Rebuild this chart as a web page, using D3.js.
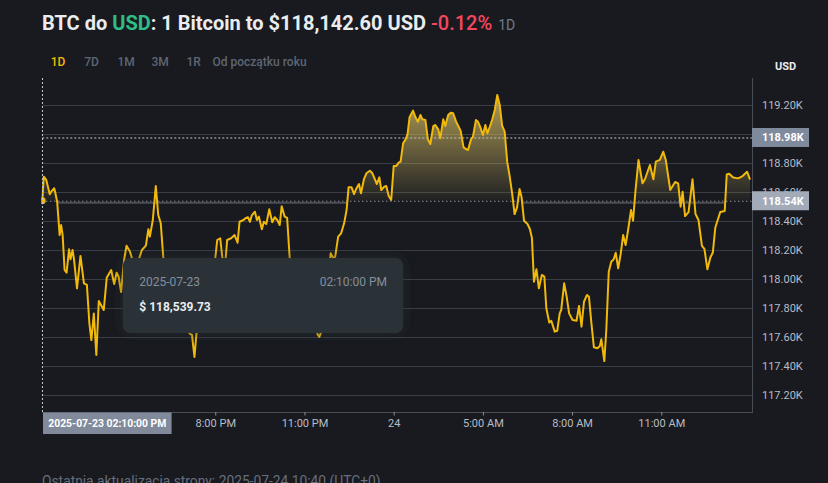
<!DOCTYPE html>
<html>
<head>
<meta charset="utf-8">
<script src="https://cdn.jsdelivr.net/npm/d3@7/dist/d3.min.js"></script>
<style>
  html, body { margin: 0; padding: 0; background: #181a20; }
  svg { display: block; }
  text { font-family: Roboto, "Noto Sans", sans-serif; }
</style>
</head>
<body>
<svg id="chart" width="828" height="483"></svg>
<script>
// ---------------- DATA ----------------
const startTime = "2025-07-23T14:10:00Z";
const endTime = "2025-07-24T14:02:00Z";
// minutes since start
const offsetMin = [0,3,8,15,18,24,26,30,35,38,41,45,49,54,57,61,64,70,77,84,90,95,99,104,109,114,124,130,139,145,150,154,159,165,170,177,185,193,201,209,214,217,223,229,234,239,244,252,262,274,286,298,302,307,311,320,330,340,349,353,359,363,367,370,373,381,388,394,398,406,410,415,419,423,429,433,437,443,447,452,458,464,469,474,479,483,489,494,499,506,516,528,540,550,556,559,562,571,577,582,587,591,597,603,609,614,618,624,629,634,639,643,649,654,661,666,671,675,680,684,690,694,699,704,709,714,719,723,728,733,737,741,748,753,758,763,767,773,778,783,789,793,799,803,809,813,819,824,829,835,840,844,850,856,859,865,869,875,879,884,889,894,898,903,908,913,918,923,928,933,938,943,948,953,958,963,967,972,979,984,988,992,997,1002,1008,1013,1017,1023,1027,1034,1039,1044,1047,1053,1058,1063,1070,1078,1083,1088,1093,1099,1103,1108,1113,1120,1125,1128,1134,1138,1143,1148,1153,1157,1162,1167,1172,1177,1182,1188,1192,1197,1203,1211,1216,1226,1233,1238,1246,1253,1258,1267,1277,1283,1288,1292,1297,1304,1312,1318,1324,1331,1336,1342,1348,1353,1358,1368,1377,1381,1386,1394,1404,1413,1422,1428];
const prices = [118539.73,118706,118683,118584,118602,118626,118598,118533,118303,118372,118303,118062,118043,118205,118136,118200,118136,117936,118159,117970,117959,117694,117579,117762,117476,117848,117786,118008,118062,117966,118043,118016,117910,118131,118229,118188,118097,118117,118200,118230,118343,118292,118407,118641,118441,118384,118154,117959,117855,117772,117683,117621,117614,117462,117621,117752,117855,117993,118143,118269,118281,118154,118103,118143,118269,118281,118303,118250,118395,118407,118419,118426,118395,118441,118464,118407,118430,118343,118395,118379,118481,118391,118426,118407,118372,118501,118430,118421,118154,117959,117855,117786,117731,117683,117614,117600,117628,117855,118028,118177,118143,118154,118292,118315,118384,118476,118632,118632,118586,118626,118655,118591,118688,118729,118747,118729,118688,118655,118701,118614,118637,118641,118572,118545,118779,118779,118802,118809,118936,118963,119000,119115,119161,119115,119085,119131,119101,119097,118963,118931,119055,119062,119032,118970,119101,119055,119131,119147,119143,119085,119050,119023,118908,118894,118890,118963,118981,119097,119085,119046,118993,119062,119005,119050,119101,119166,119269,119200,119055,119016,118809,118710,118591,118448,118494,118621,118566,118402,118379,118343,118281,117981,118067,117936,118028,118016,117798,117699,117712,117637,117643,117763,117786,117970,117878,117763,117717,117712,117814,117671,117843,117890,117878,117694,117529,117522,117538,117584,117434,117648,118050,118119,118136,118181,118074,118172,118303,118234,118338,118476,118402,118614,118821,118660,118688,118786,118688,118809,118821,118878,118821,118614,118669,118660,118499,118602,118434,118461,118688,118448,118407,118229,118208,118067,118148,118183,118355,118462,118469,118721,118726,118700,118694,118710,118740,118686];

const baselineValue = 118539.73;
const highLineValue = 118976;
const yTickValues = [117200,117400,117600,117800,118000,118200,118400,118600,118800,119000,119200];
const xTickTimes = ["2025-07-23T20:00:00Z","2025-07-23T23:00:00Z","2025-07-24T02:00:00Z","2025-07-24T05:00:00Z","2025-07-24T08:00:00Z","2025-07-24T11:00:00Z"];
const xTickLabels = ["8:00 PM","11:00 PM","24","5:00 AM","8:00 AM","11:00 AM"];
// ranges (minutes since start) where the grey baseline band is shown
const greyBandMin = [[32, 615], [970, 1378]];
const tabs = ["1D","7D","1M","3M","1R","Od początku roku"];
const tooltipDate = "2025-07-23";
const tooltipTime = "02:10:00 PM";
const tooltipPrice = "$ 118,539.73";
const crosshairLabel = "2025-07-23 02:10:00 PM";
const footerText = "Ostatnia aktualizacja strony: 2025-07-24 10:40 (UTC+0)";

// ---------------- LAYOUT ----------------
const W = 828, H = 483;
const plot = { left: 42.3, right: 752, top: 78, bottom: 412 };
const t0 = new Date(startTime).getTime();
const data = offsetMin.map((m, i) => ({ t: new Date(t0 + m * 60000), v: prices[i] }));

const x = d3.scaleUtc().domain([new Date(startTime), new Date(endTime)]).range([plot.left, plot.right]);
const y = d3.scaleLinear().domain([117200, 119200]).range([395, 105]);

const svg = d3.select("#chart");
svg.append("rect").attr("width", W).attr("height", H).attr("fill", "#181a20");

const defs = svg.append("defs");
defs.append("clipPath").attr("id", "plotClip").append("rect")
  .attr("x", 41.3).attr("y", plot.top).attr("width", plot.right - 41.3).attr("height", plot.bottom - plot.top);
defs.append("clipPath").attr("id", "aboveClip").append("rect")
  .attr("x", 41.3).attr("y", plot.top).attr("width", plot.right - 41.3).attr("height", y(baselineValue) - plot.top);
const grad = defs.append("linearGradient").attr("id", "areaGrad")
  .attr("gradientUnits", "userSpaceOnUse").attr("x1", 0).attr("x2", 0)
  .attr("y1", y(d3.max(prices))).attr("y2", y(baselineValue));
grad.append("stop").attr("offset", "0%").attr("stop-color", "rgb(232,204,104)").attr("stop-opacity", 0.74);
grad.append("stop").attr("offset", "100%").attr("stop-color", "rgb(232,204,104)").attr("stop-opacity", 0.04);
const shadow = defs.append("filter").attr("id", "tipShadow").attr("x", "-20%").attr("y", "-40%").attr("width", "140%").attr("height", "180%");
shadow.append("feGaussianBlur").attr("in", "SourceAlpha").attr("stdDeviation", 7).attr("result", "b");
shadow.append("feFlood").attr("flood-color", "#2b3139").attr("flood-opacity", 0.55).attr("result", "c");
shadow.append("feComposite").attr("in", "c").attr("in2", "b").attr("operator", "in").attr("result", "s");
const fm = shadow.append("feMerge");
fm.append("feMergeNode").attr("in", "s");
fm.append("feMergeNode").attr("in", "SourceGraphic");

// ---------------- TITLE ----------------
const title = svg.append("text").attr("x", 42).attr("y", 29.5).attr("font-size", 20).attr("font-weight", 700).attr("fill", "#eaecef");
title.append("tspan").text("BTC do ");
title.append("tspan").attr("fill", "#2ebd85").text("USD");
title.append("tspan").text(": 1 Bitcoin to $118,142.60 USD ");
title.append("tspan").attr("fill", "#f6465d").attr("font-weight", 500).text("-0.12%");
title.append("tspan").attr("fill", "#707a8a").attr("font-weight", 400).attr("font-size", 14).attr("dx", 6).text("1D");

// tabs
const tabX = [50.7, 84.3, 117.5, 151.4, 186.4, 212.5];
tabs.forEach((t, i) => {
  svg.append("text").attr("x", tabX[i]).attr("y", 65.5).attr("font-size", 12).attr("font-weight", 500)
    .attr("fill", i === 0 ? "#f0b90b" : "#5e6673").text(t);
});

// ---------------- GRID ----------------
svg.append("g").selectAll("line").data(yTickValues).join("line")
  .attr("x1", plot.left).attr("x2", plot.right)
  .attr("y1", d => y(d) + 0.5).attr("y2", d => y(d) + 0.5)
  .attr("stroke", "#393d45").attr("stroke-width", 1);

// ---------------- AREA + LINES ----------------
const g = svg.append("g").attr("clip-path", "url(#plotClip)");

g.append("path").datum(data)
  .attr("clip-path", "url(#aboveClip)")
  .attr("fill", "url(#areaGrad)")
  .attr("d", d3.area().x(d => x(d.t)).y0(y(baselineValue)).y1(d => y(d.v)));

// dotted baseline
g.append("line").attr("x1", plot.left).attr("x2", plot.right)
  .attr("y1", y(baselineValue) + 0.5).attr("y2", y(baselineValue) + 0.5)
  .attr("stroke", "#c4c8cf").attr("stroke-width", 1).attr("stroke-dasharray", "1,3");
// grey band
greyBandMin.forEach(([a, b]) => {
  g.append("line")
    .attr("x1", x(new Date(t0 + a * 60000))).attr("x2", x(new Date(t0 + b * 60000)))
    .attr("y1", y(baselineValue) + 2).attr("y2", y(baselineValue) + 2)
    .attr("stroke", "#4a4e56").attr("stroke-width", 2.2);
});
// dashed high line
g.append("line").attr("x1", plot.left).attr("x2", plot.right)
  .attr("y1", y(highLineValue) + 0.5).attr("y2", y(highLineValue) + 0.5)
  .attr("stroke", "#c4c8cf").attr("stroke-width", 1).attr("stroke-dasharray", "2,2");

g.append("path").datum(data)
  .attr("fill", "none").attr("stroke", "#f0b90b").attr("stroke-width", 2)
  .attr("stroke-linejoin", "round")
  .attr("d", d3.line().x(d => x(d.t)).y(d => y(d.v)));

// marker dot
g.append("circle").attr("cx", x(data[0].t)).attr("cy", y(data[0].v)).attr("r", 3.4).attr("fill", "#f0b90b");

// vertical crosshair
svg.append("line").attr("x1", x(data[0].t) + 0.2).attr("x2", x(data[0].t) + 0.2)
  .attr("y1", plot.top).attr("y2", plot.bottom)
  .attr("stroke", "#c4c8cf").attr("stroke-width", 1).attr("stroke-dasharray", "2,2");

// ---------------- AXES ----------------
svg.append("line").attr("x1", plot.right + 0.5).attr("x2", plot.right + 0.5).attr("y1", plot.top).attr("y2", plot.bottom)
  .attr("stroke", "#474d57");
svg.append("line").attr("x1", plot.left).attr("x2", plot.right + 1).attr("y1", plot.bottom + 0.5).attr("y2", plot.bottom + 0.5)
  .attr("stroke", "#474d57");

svg.append("text").attr("x", 785.5).attr("y", 70).attr("text-anchor", "middle")
  .attr("font-size", 11).attr("font-weight", 700).attr("fill", "#eaecef").text("USD");

const fmtK = v => d3.format(".2f")(v / 1000) + "K";
svg.append("g").selectAll("text").data(yTickValues).join("text")
  .attr("x", 762).attr("y", d => y(d)).attr("dy", "0.36em")
  .attr("font-size", 11).attr("fill", "#b7bdc6").text(fmtK);

// price label boxes
[[highLineValue, "#7f8a9d"], [baselineValue, "#a3abb8"]].forEach(([v, c]) => {
  svg.append("rect").attr("x", 752).attr("y", y(v) - 9.5).attr("width", 57).attr("height", 19).attr("fill", c);
  svg.append("text").attr("x", 762).attr("y", y(v)).attr("dy", "0.36em")
    .attr("font-size", 11).attr("font-weight", 700).attr("fill", "#ffffff").text(fmtK(v));
});

// x ticks
const xt = xTickTimes.map(s => new Date(s));
svg.append("g").selectAll("line").data(xt).join("line")
  .attr("x1", d => x(d)).attr("x2", d => x(d)).attr("y1", plot.bottom).attr("y2", plot.bottom + 3.5)
  .attr("stroke", "#848e9c");
svg.append("g").selectAll("text").data(xt).join("text")
  .attr("x", d => x(d)).attr("y", 423.5).attr("dy", "0.36em").attr("text-anchor", "middle")
  .attr("font-size", 11).attr("fill", "#b7bdc6").text((d, i) => xTickLabels[i]);

// crosshair time label
svg.append("rect").attr("x", 43).attr("y", plot.bottom + 0.5).attr("width", 128.6).attr("height", 21.5).attr("fill", "#808a9b");
svg.append("text").attr("x", 107.3).attr("y", 423.3).attr("dy", "0.36em").attr("text-anchor", "middle")
  .attr("font-size", 11).attr("font-weight", 700).attr("fill", "#ffffff")
  .attr("textLength", 118).attr("lengthAdjust", "spacingAndGlyphs").text(crosshairLabel);

// ---------------- TOOLTIP ----------------
const tip = svg.append("g");
tip.append("rect").attr("x", 123).attr("y", 258).attr("width", 280).attr("height", 75).attr("rx", 7)
  .attr("fill", "#2b3139").attr("filter", "url(#tipShadow)");
tip.append("text").attr("x", 139.3).attr("y", 282).attr("dy", "0.36em").attr("font-size", 12)
  .attr("fill", "#848e9c").text(tooltipDate);
tip.append("text").attr("x", 387).attr("y", 282).attr("dy", "0.36em").attr("text-anchor", "end").attr("font-size", 12)
  .attr("fill", "#848e9c").text(tooltipTime);
tip.append("text").attr("x", 139.3).attr("y", 307).attr("dy", "0.36em").attr("font-size", 12).attr("font-weight", 700)
  .attr("fill", "#eaecef").text(tooltipPrice);

// ---------------- FOOTER ----------------
svg.append("text").attr("x", 42).attr("y", 486).attr("font-size", 13.8).attr("fill", "#666e7d").text(footerText);
</script>
</body>
</html>
